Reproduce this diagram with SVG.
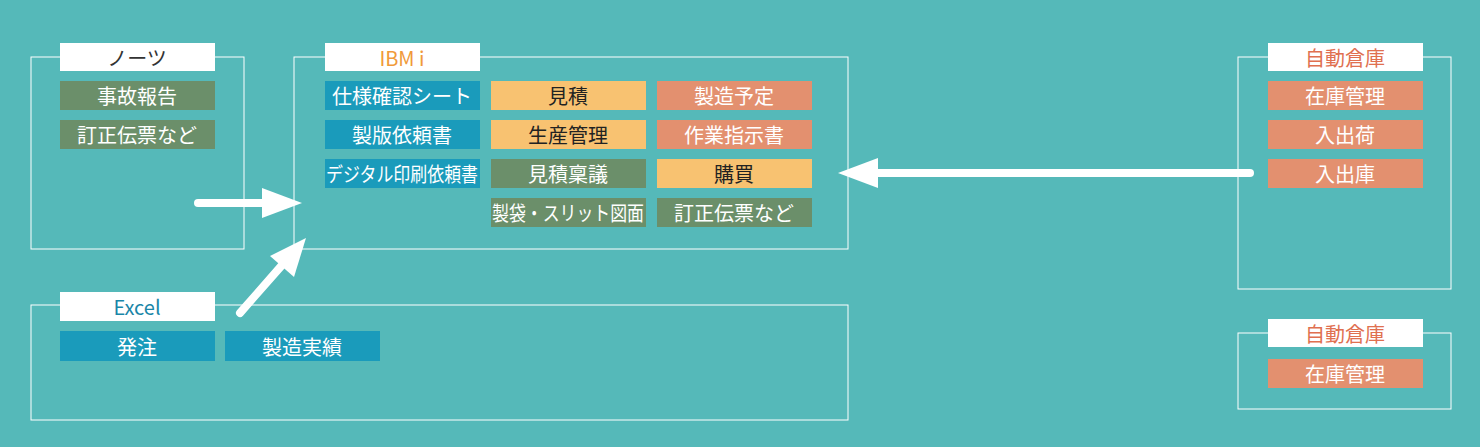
<svg xmlns="http://www.w3.org/2000/svg" width="1480" height="447" viewBox="0 0 1480 447">
<style>
.fr{fill:none;stroke:#fff;stroke-width:1}
.hd{fill:#fff}
.t{font-family:"Noto Sans CJK JP","Noto Sans",sans-serif;font-size:20px;text-anchor:middle;dominant-baseline:central}
.g{fill:#6b8f6a}.b{fill:#1a9bbb}.o{fill:#f8c271}.s{fill:#e3906f}
.w{fill:#fff}.k{fill:#222}
.ar{stroke:#fff;stroke-width:8;stroke-linecap:round;fill:none}
</style>
<rect width="1480" height="447" fill="#55b9b9"/>
<g id="notes">
<rect class="fr" x="31" y="57" width="213" height="192"/>
<rect class="hd" x="60" y="43" width="155" height="28"/>
<text class="t" x="137" y="57" fill="#333">ノーツ</text>
<rect class="g" x="60" y="81" width="155" height="29"/><text class="t w" x="137" y="95.5">事故報告</text>
<rect class="g" x="60" y="120" width="155" height="29"/><text class="t w" x="137" y="134.5">訂正伝票など</text>
</g>
<g id="ibmi">
<rect class="fr" x="294" y="57" width="554" height="192"/>
<rect class="hd" x="325" y="43" width="155" height="28"/>
<text class="t" x="402" y="57" fill="#f09a3a">IBM i</text>
<rect class="b" x="325" y="81" width="155" height="29"/><text class="t w" x="402" y="95.5">仕様確認シート</text>
<rect class="b" x="325" y="120" width="155" height="29"/><text class="t w" x="402" y="134.5">製版依頼書</text>
<rect class="b" x="325" y="159" width="155" height="29"/><text class="t w" x="402" y="173.5" textLength="152" lengthAdjust="spacingAndGlyphs">デジタル印刷依頼書</text>
<rect class="o" x="491" y="81" width="155" height="29"/><text class="t k" x="568" y="95.5">見積</text>
<rect class="o" x="491" y="120" width="155" height="29"/><text class="t k" x="568" y="134.5">生産管理</text>
<rect class="g" x="491" y="159" width="155" height="29"/><text class="t w" x="568" y="173.5">見積稟議</text>
<rect class="g" x="491" y="198" width="155" height="29"/><text class="t w" x="568" y="212.5" textLength="152" lengthAdjust="spacingAndGlyphs">製袋・スリット図面</text>
<rect class="s" x="657" y="81" width="155" height="29"/><text class="t w" x="734" y="95.5">製造予定</text>
<rect class="s" x="657" y="120" width="155" height="29"/><text class="t w" x="734" y="134.5">作業指示書</text>
<rect class="o" x="657" y="159" width="155" height="29"/><text class="t k" x="734" y="173.5">購買</text>
<rect class="g" x="657" y="198" width="155" height="29"/><text class="t w" x="734" y="212.5">訂正伝票など</text>
</g>
<g id="wh1">
<rect class="fr" x="1238" y="57" width="213" height="232"/>
<rect class="hd" x="1268" y="43" width="155" height="28"/>
<text class="t" x="1345" y="57" fill="#e07050">自動倉庫</text>
<rect class="s" x="1268" y="81" width="155" height="29"/><text class="t w" x="1345" y="95.5">在庫管理</text>
<rect class="s" x="1268" y="120" width="155" height="29"/><text class="t w" x="1345" y="134.5">入出荷</text>
<rect class="s" x="1268" y="159" width="155" height="29"/><text class="t w" x="1345" y="173.5">入出庫</text>
</g>
<g id="wh2">
<rect class="fr" x="1238" y="333" width="213" height="76"/>
<rect class="hd" x="1268" y="319" width="155" height="28"/>
<text class="t" x="1345" y="333" fill="#e07050">自動倉庫</text>
<rect class="s" x="1268" y="359" width="155" height="29"/><text class="t w" x="1345" y="373.5">在庫管理</text>
</g>
<g id="excel">
<rect class="fr" x="31" y="305" width="817" height="115"/>
<rect class="hd" x="60" y="292" width="155" height="29"/>
<text class="t" x="137" y="306.5" fill="#1a86a8">Excel</text>
<rect class="b" x="60" y="331" width="155" height="30"/><text class="t w" x="137" y="346">発注</text>
<rect class="b" x="225" y="331" width="155" height="30"/><text class="t w" x="302" y="346">製造実績</text>
</g>
<g id="connectors">
<line class="ar" x1="198" y1="203" x2="268" y2="203"/>
<polygon fill="#fff" points="262,188 302,203 262,218"/>
<line class="ar" x1="240" y1="313" x2="283" y2="264"/>
<polygon fill="#fff" points="270,256 306,238 294,277"/>
<line class="ar" x1="1250" y1="173" x2="870" y2="173"/>
<polygon fill="#fff" points="878,158 838,173 878,188"/>
</g>
</svg>
